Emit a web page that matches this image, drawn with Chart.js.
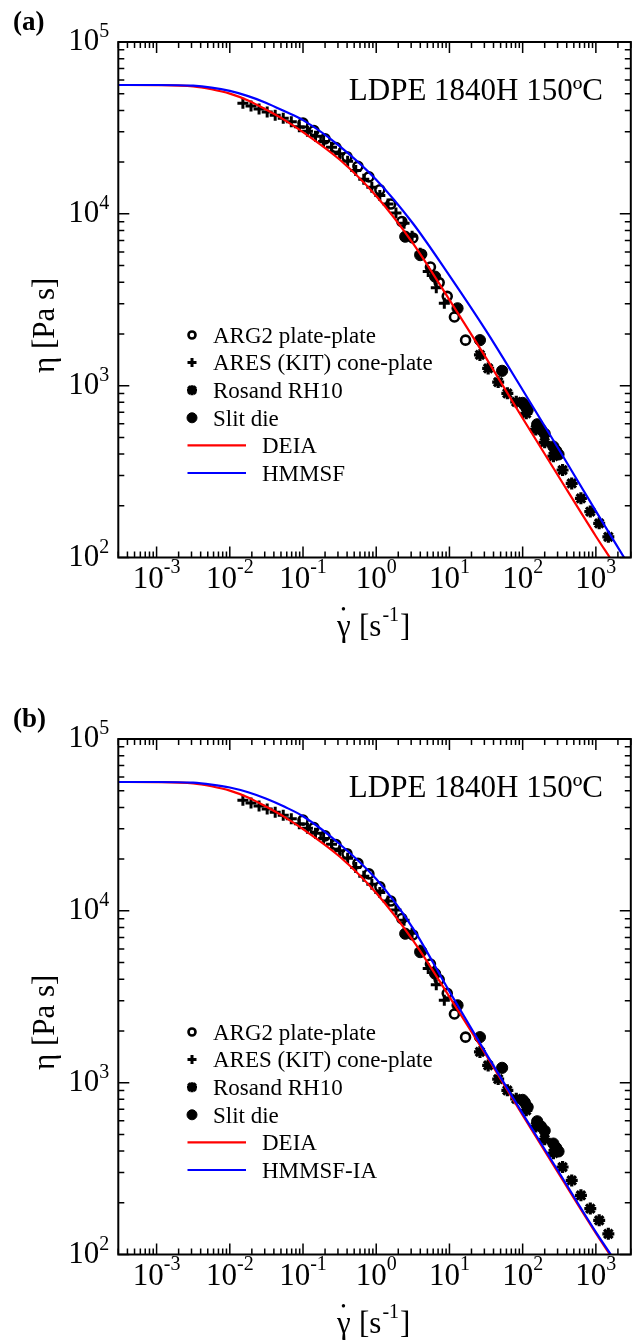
<!DOCTYPE html>
<html>
<head>
<meta charset="utf-8">
<script src="https://cdn.jsdelivr.net/npm/chart.js@4.4.1/dist/chart.umd.min.js"></script>
<style>
  body { margin: 0; background: #fff; width: 640px; height: 1342px; position: relative; overflow: hidden; }
  canvas { position: absolute; left: 0; }
  #chartA { top: 0; }
  #chartB { top: 697px; }
</style>
</head>
<body>
<canvas id="chartA" width="640" height="645"></canvas>
<canvas id="chartB" width="640" height="645"></canvas>
<script>
// axis ranges and tick labels (powers of ten)
var xMin = 3e-4, xMax = 3000, yMin = 100, yMax = 1e5;
var xTickExps = [-3, -2, -1, 0, 1, 2, 3];
var yTickExps = [2, 3, 4, 5];

// measured data (shear rate [1/s], viscosity [Pa s])
var arg2X = [0.1, 0.141, 0.2, 0.282, 0.398, 0.562, 0.794, 1.12, 1.58, 2.24, 3.16, 4.17, 5.50, 7.24, 9.33, 11.7, 16.6];
var arg2Y = [33700, 30500, 27300, 24300, 21500, 18900, 16400, 13800, 11400, 9020, 7240, 5820, 4900, 3980, 3310, 2510, 1840];

var aresX = [0.0151, 0.0195, 0.0251, 0.0324, 0.0417, 0.0537, 0.0692, 0.0891, 0.115, 0.148, 0.191, 0.245, 0.316,
             0.407, 0.525, 0.676, 0.871, 1.12, 1.45, 1.86, 2.40, 3.09, 3.98, 5.13, 6.61, 8.51];
var aresY = [44000, 42400, 40700, 39100, 37500, 36000, 34400, 32100, 30200, 28300, 26400, 24400, 22400,
             20200, 17900, 15900, 14300, 12800, 11400, 10100, 8810, 7410, 5890, 4620, 3720, 3020];

var rosandX = [26.1, 33.8, 46.3, 61.8, 81.8, 112, 151, 200, 263, 351, 468, 625, 839, 1110, 1480];
var rosandY = [1510, 1260, 1050, 902, 805, 690, 556, 468, 389, 323, 270, 221, 185, 158, 132];

var slitX = [2.49, 3.99, 6.37, 12.9, 26.1, 52.4, 100, 107, 117, 158, 178, 200, 263, 288, 309];
var slitY = [7360, 5750, 4310, 2820, 1840, 1220, 794, 767, 721, 596, 556, 525, 442, 417, 398];

// model predictions
var deiaX = [3e-4, 1e-3, 3.16e-3, 5.62e-3, 0.01, 0.0178, 0.0316, 0.0562, 0.1, 0.316, 1, 3.16, 10, 31.6, 100,
             316, 1000, 1550];
var deiaY = [56200, 56100, 55200, 53100, 50100, 45700, 40300, 35100, 29900, 20700, 12700, 6760, 3160, 1450, 646,
             292, 133, 100];

var hmmsfX = [3e-4, 1e-3, 3.16e-3, 5.62e-3, 0.01, 0.0178, 0.0316, 0.0562, 0.1, 0.316, 1, 3.16, 10, 31.6, 100,
              316, 1000, 2430];
var hmmsfY = [56200, 56200, 55700, 54300, 51900, 48400, 44200, 39500, 35100, 24800, 15800, 8810, 4370, 2090, 944,
              422, 186, 100];

var hmmsfIaX = [3e-4, 1e-3, 3.16e-3, 5.62e-3, 0.01, 0.0178, 0.0316, 0.0562, 0.1, 0.316, 1, 3.16, 10, 31.6, 100,
                316, 1000, 1600];
var hmmsfIaY = [56200, 56200, 55700, 54300, 52200, 49000, 44900, 40300, 35500, 24500, 15300, 7940, 3390, 1480, 661,
                299, 135, 100];

var serif = '"Liberation Serif", "Times New Roman", serif';

function pts(xs, ys) {
    return xs.map(function (x, i) { return { x: x, y: ys[i] }; });
}

function drawPow(ctx, x, y, exp, align, rise) {
    ctx.font = "31px " + serif;
    var w1 = ctx.measureText("10").width;
    ctx.font = "20px " + serif;
    var w2 = ctx.measureText(exp).width;
    var x0 = align === "center" ? x - (w1 + w2) / 2 : x - (w1 + w2);
    ctx.textAlign = "left";
    ctx.font = "31px " + serif;
    ctx.fillText("10", x0, y);
    ctx.font = "20px " + serif;
    ctx.fillText(exp, x0 + w1, y - rise);
}

function drawMarker(ctx, ds, x, y, r) {
    ctx.save();
    ctx.strokeStyle = "#000";
    ctx.fillStyle = "#000";
    ctx.lineWidth = ds.borderWidth;
    ctx.beginPath();
    if (ds.pointStyle === "circle") {
        ctx.arc(x, y, r, 0, Math.PI * 2);
        if (ds.backgroundColor === "#000") ctx.fill();
        ctx.stroke();
    } else {
        ctx.moveTo(x - r, y); ctx.lineTo(x + r, y);
        ctx.moveTo(x, y - r); ctx.lineTo(x, y + r);
        if (ds.pointStyle === "star") {
            var d = r * 0.75;
            ctx.moveTo(x - d, y - d); ctx.lineTo(x + d, y + d);
            ctx.moveTo(x - d, y + d); ctx.lineTo(x + d, y - d);
        }
        ctx.stroke();
    }
    ctx.restore();
}

var paperPlugin = {
    id: "paper",
    afterDraw: function (chart, args, opts) {
        var ctx = chart.ctx, area = chart.chartArea;
        var xs = chart.scales.x, ys = chart.scales.y;
        ctx.save();
        ctx.strokeStyle = "#000";
        ctx.fillStyle = "#000";

        // inward ticks on all four sides
        ctx.lineWidth = 1.5;
        ctx.beginPath();
        for (var k = -4; k <= 4; k++) {
            for (var m = 1; m <= 9; m++) {
                var v = m * Math.pow(10, k);
                var len = m === 1 ? 11 : 6;
                if (v >= xMin && v <= xMax) {
                    var px = xs.getPixelForValue(v);
                    ctx.moveTo(px, area.bottom); ctx.lineTo(px, area.bottom - len);
                    ctx.moveTo(px, area.top); ctx.lineTo(px, area.top + len);
                }
                if (v >= yMin && v <= yMax) {
                    var py = ys.getPixelForValue(v);
                    ctx.moveTo(area.left, py); ctx.lineTo(area.left + len, py);
                    ctx.moveTo(area.right, py); ctx.lineTo(area.right - len, py);
                }
            }
        }
        ctx.stroke();
        ctx.lineWidth = 2;
        ctx.strokeRect(area.left, area.top, area.right - area.left, area.bottom - area.top);

        // tick labels
        ctx.textBaseline = "alphabetic";
        xTickExps.forEach(function (e) {
            drawPow(ctx, xs.getPixelForValue(Math.pow(10, e)), area.bottom + 30.5, String(e), "center", 15);
        });
        yTickExps.forEach(function (e) {
            drawPow(ctx, area.left - 9, ys.getPixelForValue(Math.pow(10, e)) + 8, String(e), "right", 13);
        });

        // x axis title
        var base = area.bottom + 78.5;
        ctx.textAlign = "left";
        ctx.font = "31px " + serif;
        ctx.fillText("\u03b3", 337, base);
        ctx.font = "14px " + serif;
        ctx.textAlign = "center";
        ctx.fillText("\u2022", 343.5, base - 22);
        ctx.textAlign = "left";
        ctx.font = "31px " + serif;
        ctx.fillText("[s", 359, base);
        var wx = 359 + ctx.measureText("[s").width;
        ctx.font = "20px " + serif;
        ctx.fillText("-1", wx + 1, base - 15);
        wx += 1 + ctx.measureText("-1").width;
        ctx.font = "31px " + serif;
        ctx.fillText("]", wx + 1, base);

        // y axis title
        ctx.save();
        ctx.translate(area.left - 64.8, area.top + 331);
        ctx.rotate(-Math.PI / 2);
        ctx.textAlign = "left";
        ctx.fillText("\u03b7 [Pa s]", 0, 0);
        ctx.restore();

        // sample annotation
        ctx.textAlign = "right";
        ctx.font = "31px " + serif;
        ctx.fillText("LDPE 1840H 150\u00baC", 603, area.top + 58);

        // panel label
        ctx.textAlign = "left";
        ctx.font = "bold 27px " + serif;
        ctx.fillText(opts.panel, 13, area.top - 12);

        // legend
        ctx.font = "23px " + serif;
        var rowY = area.top + 293;
        [2, 3, 4, 5, 1, 0].forEach(function (idx) {
            var ds = chart.data.datasets[idx];
            if (ds.showLine) {
                ctx.save();
                ctx.strokeStyle = ds.borderColor;
                ctx.lineWidth = ds.borderWidth;
                ctx.beginPath();
                ctx.moveTo(187.5, rowY); ctx.lineTo(246, rowY);
                ctx.stroke();
                ctx.restore();
                ctx.fillText(ds.label, 262, rowY + 7.7);
            } else {
                drawMarker(ctx, ds, 192, rowY, ds.legendRadius);
                ctx.fillText(ds.label, 213, rowY + 7.7);
            }
            rowY += 27.6;
        });
        ctx.restore();
    }
};

function makeChart(canvasId, panel, modelLabel, modelX, modelY) {
    var ctx = document.getElementById(canvasId).getContext("2d");
    return new Chart(ctx, {
        type: "scatter",
        data: {
            datasets: [
                { label: modelLabel, data: pts(modelX, modelY), showLine: true, borderColor: "#0000ff",
                  borderWidth: 2.2, pointRadius: 0, cubicInterpolationMode: "monotone", order: 0 },
                { label: "DEIA", data: pts(deiaX, deiaY), showLine: true, borderColor: "#ff0000",
                  borderWidth: 2.2, pointRadius: 0, cubicInterpolationMode: "monotone", order: 0 },
                { label: "ARG2 plate-plate", data: pts(arg2X, arg2Y), pointStyle: "circle", pointRadius: 4.5,
                  borderWidth: 2.6, borderColor: "#000", backgroundColor: "rgba(0,0,0,0)", legendRadius: 3.5, order: 1 },
                { label: "ARES (KIT) cone-plate", data: pts(aresX, aresY), pointStyle: "cross", pointRadius: 5.5,
                  borderWidth: 3, borderColor: "#000", backgroundColor: "#000", legendRadius: 4.5, order: 1 },
                { label: "Rosand RH10", data: pts(rosandX, rosandY), pointStyle: "star", pointRadius: 6,
                  borderWidth: 3.2, borderColor: "#000", backgroundColor: "#000", legendRadius: 5, order: 1 },
                { label: "Slit die", data: pts(slitX, slitY), pointStyle: "circle", pointRadius: 5.6,
                  borderWidth: 1, borderColor: "#000", backgroundColor: "#000", legendRadius: 5, order: 1 }
            ]
        },
        options: {
            responsive: false,
            animation: false,
            devicePixelRatio: 1,
            layout: { padding: { top: 42, right: 7.5, left: 0, bottom: 0 } },
            scales: {
                x: {
                    type: "logarithmic", min: xMin, max: xMax,
                    grid: { display: false }, border: { display: false }, ticks: { display: false },
                    afterFit: function (s) { s.height = 87.5; }
                },
                y: {
                    type: "logarithmic", min: yMin, max: yMax,
                    grid: { display: false }, border: { display: false }, ticks: { display: false },
                    afterFit: function (s) { s.width = 118.3; }
                }
            },
            plugins: {
                legend: { display: false },
                tooltip: { enabled: false },
                paper: { panel: panel }
            }
        },
        plugins: [paperPlugin]
    });
}

makeChart("chartA", "(a)", "HMMSF", hmmsfX, hmmsfY);
makeChart("chartB", "(b)", "HMMSF-IA", hmmsfIaX, hmmsfIaY);
</script>
</body>
</html>
